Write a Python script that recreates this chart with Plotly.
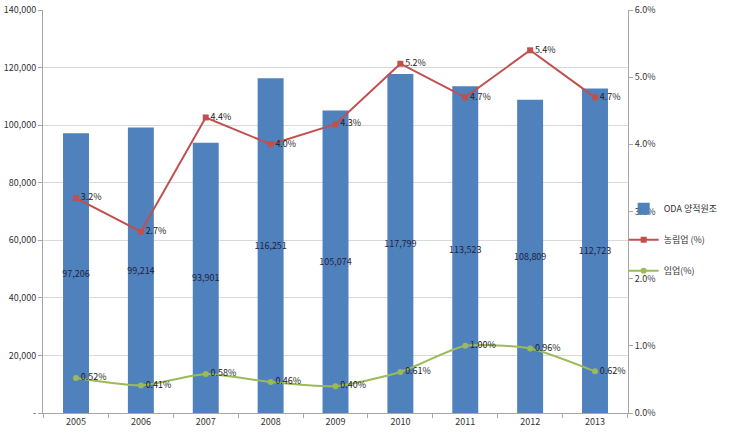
import plotly.graph_objects as go

years = ["2005", "2006", "2007", "2008", "2009", "2010", "2011", "2012", "2013"]
oda_amounts = [97206, 99214, 93901, 116251, 105074, 117799, 113523, 108809, 112723]
agri_share = [0.032, 0.027, 0.044, 0.040, 0.043, 0.052, 0.047, 0.054, 0.047]
forest_share = [0.0052, 0.0041, 0.0058, 0.0046, 0.0040, 0.0061, 0.0100, 0.0096, 0.0062]

FONT = "Malgun Gothic, Noto Sans CJK KR, sans-serif"
GRID = "#d9d9d9"
AXIS = "#a6a6a6"

fig = go.Figure()

fig.add_trace(
    go.Bar(
        x=years,
        y=oda_amounts,
        name="ODA 양적원조",
        marker=dict(color="#4f81bd", line=dict(width=0)),
        width=0.4,
        text=[f"{v:,}" for v in oda_amounts],
        textposition="inside",
        insidetextanchor="middle",
        textangle=0,
        textfont=dict(color="#1f1f3f", size=9),
        legendgroup="a",
    )
)

fig.add_trace(
    go.Scatter(
        x=years,
        y=agri_share,
        name="농림업 (%)",
        mode="lines+markers+text",
        line=dict(color="#c0504d", width=2),
        marker=dict(symbol="square", size=6, color="#c0504d"),
        text=[f"{v * 100:.1f}%" for v in agri_share],
        textposition="middle right",
        textfont=dict(color="#222222", size=9),
        yaxis="y2",
        legendgroup="b",
    )
)

fig.add_trace(
    go.Scatter(
        x=years,
        y=forest_share,
        name="임업(%)",
        mode="lines+markers+text",
        line=dict(color="#9bbb59", width=2, shape="spline", smoothing=0.6),
        marker=dict(symbol="circle", size=6, color="#9bbb59"),
        text=[f"{v * 100:.2f}%" for v in forest_share],
        textposition="middle right",
        textfont=dict(color="#222222", size=9),
        yaxis="y2",
        legendgroup="c",
    )
)

fig.update_layout(
    width=732,
    height=436,
    margin=dict(l=43, r=104, t=10, b=23, autoexpand=False),
    paper_bgcolor="white",
    plot_bgcolor="white",
    font=dict(family=FONT, size=9, color="#333333"),
    uniformtext=dict(minsize=9, mode="show"),
    showlegend=True,
    legend=dict(
        xref="container",
        yref="container",
        x=0.852,
        xanchor="left",
        y=0.45,
        yanchor="middle",
        itemwidth=30,
        font=dict(size=9, color="#333333"),
        tracegroupgap=12,
        bgcolor="rgba(0,0,0,0)",
    ),
    xaxis=dict(
        type="category",
        automargin=False,
        showgrid=False,
        showline=True,
        linecolor=AXIS,
        ticks="outside",
        tickson="boundaries",
        ticklen=4,
        tickcolor=AXIS,
    ),
    yaxis=dict(
        range=[0, 140000],
        automargin=False,
        showgrid=True,
        gridcolor=GRID,
        showline=True,
        linecolor=AXIS,
        ticks="outside",
        ticklen=4,
        tickcolor=AXIS,
        tickvals=[0, 20000, 40000, 60000, 80000, 100000, 120000, 140000],
        ticktext=["-", "20,000", "40,000", "60,000", "80,000", "100,000", "120,000", "140,000"],
        zeroline=False,
    ),
    yaxis2=dict(
        range=[0, 0.06],
        automargin=False,
        dtick=0.01,
        tickformat=".1%",
        overlaying="y",
        side="right",
        showgrid=False,
        showline=True,
        linecolor=AXIS,
        ticks="outside",
        ticklen=4,
        tickcolor=AXIS,
        zeroline=False,
    ),
)

# the page body has a default 8px margin; drop it so the chart sits at the window's corner
fig.write_html(
    "out.html",
    config={"displayModeBar": False},
    post_script="document.body.style.margin='0';",
)
